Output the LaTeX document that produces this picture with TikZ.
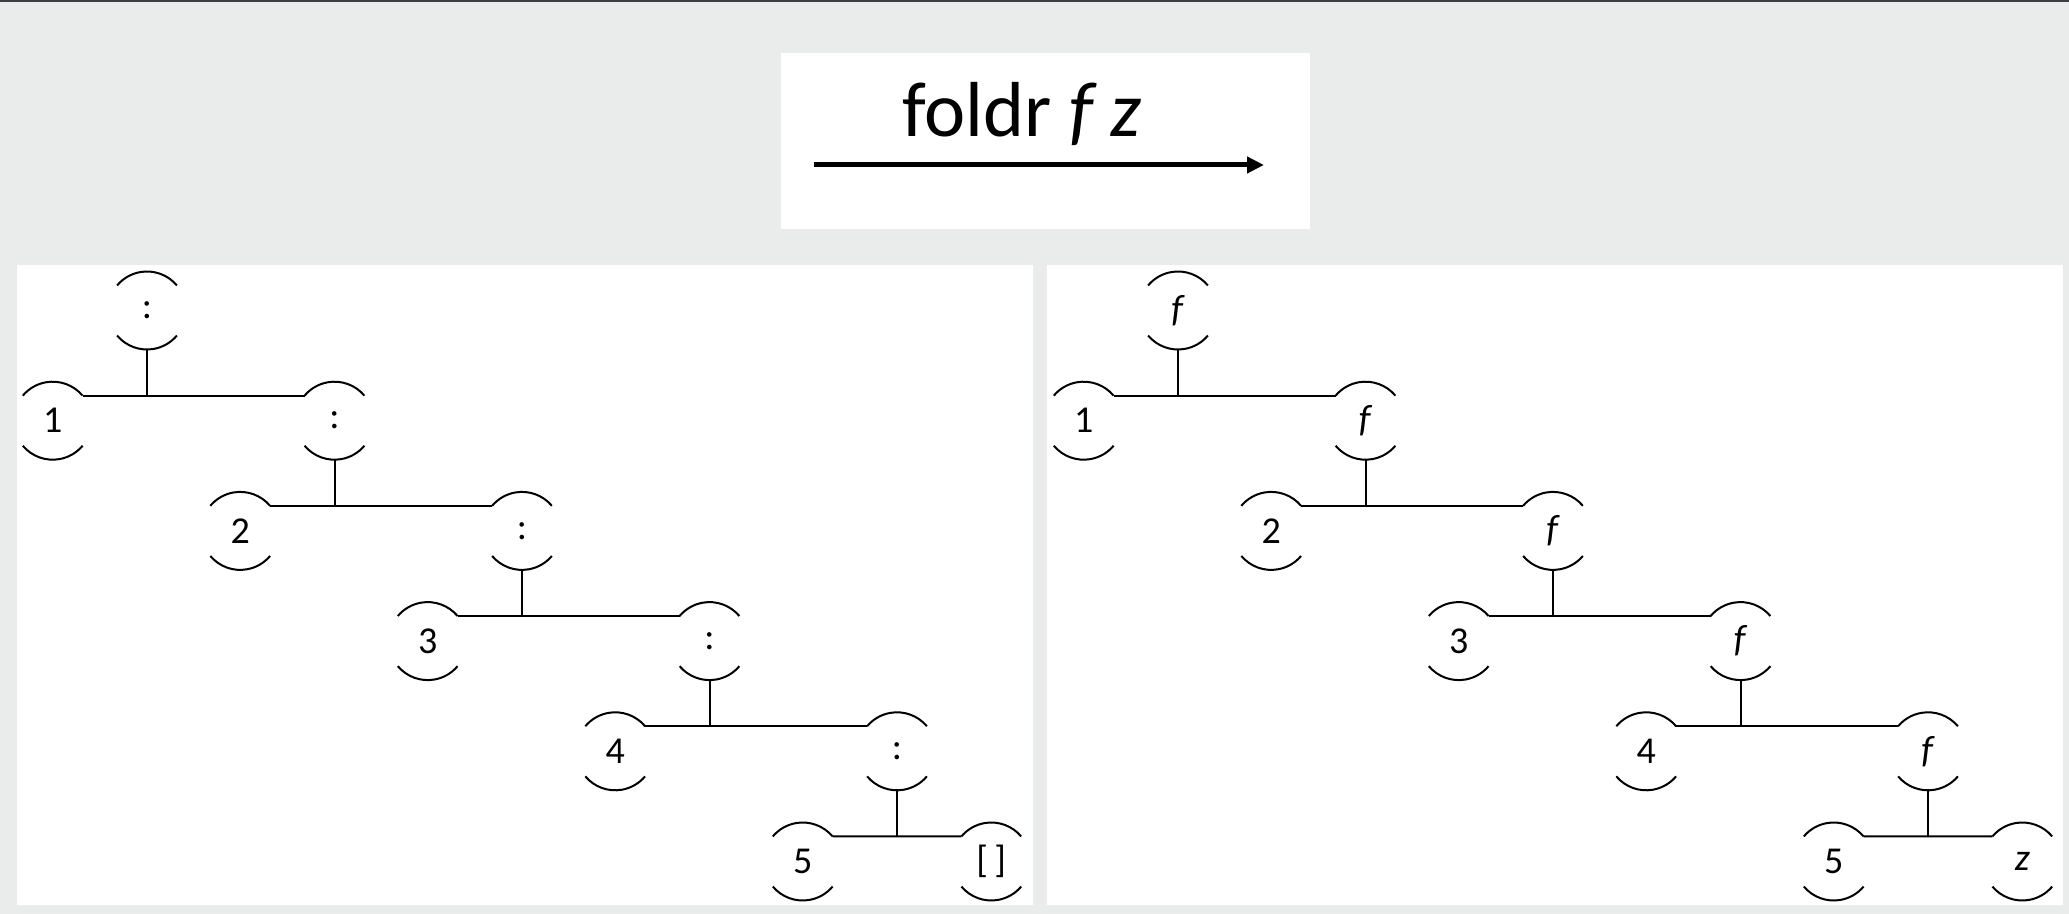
\documentclass[tikz,border=0pt]{standalone}
\usepackage{fontspec}
\setmainfont{Carlito}
\usetikzlibrary{arrows.meta}
\definecolor{bg}{HTML}{EAEBEB}
\definecolor{topbar}{HTML}{3C3F41}
\tikzset{
  tn/.style={circle, minimum size=39pt, inner sep=0pt, outer sep=0pt, font=\fontsize{19}{22}\selectfont},
  link/.style={line width=1pt, black},
  panel/.style={fill=white, draw=none},
  titlefont/.style={font=\fontsize{39}{44}\selectfont},
}
\newcommand{\arcsof}[1]{%
  \draw[link] (#1.40) arc[start angle=40,end angle=140,radius=19.5pt];
  \draw[link] (#1.220) arc[start angle=220,end angle=320,radius=19.5pt];}
\newcommand{\consTree}[4]{%
  \foreach \i in {1,...,5} {
    \node[tn] (#1c\i) at ({#2+147+187.5*(\i-1)},{310.5+110.2*(\i-1)}) {#3};
    \node[tn] (#1n\i) at ({#2+52.7+187.5*(\i-1)},{420.7+110.2*(\i-1)}) {\i};
  }
  \node[tn] (#1e) at ({#2+991.3},861.5) {#4};
  \foreach \i in {1,...,5} {
    \arcsof{#1c\i}
    \arcsof{#1n\i}
    \draw[link] (#1c\i.south) -- (#1c\i.south |- #1n\i.40);
  }
  \arcsof{#1e}
  \foreach \i [evaluate=\i as \j using int(\i+1)] in {1,...,4} {
    \draw[link] (#1n\i.40) -- (#1c\j.140);
  }
  \draw[link] (#1n5.40) -- (#1e.140);
}
\begin{document}
\begin{tikzpicture}[x=0.5pt,y=-0.5pt]
  \useasboundingbox (0,0) rectangle (2069,914);
  \fill[bg] (0,0) rectangle (2069,914);
  \fill[topbar] (0,0) rectangle (2069,2);
  % title box
  \fill[white] (781,53) rectangle (1310,229);
  \node[titlefont, anchor=base, inner sep=0pt] (title) at (1022,137) {foldr \textit{f z}};
  \coordinate (a0) at (814,165);
  \coordinate (a1) at (1264,165);
  \draw[line width=2.5pt, -{Triangle[length=8.5pt,width=8pt]}] (a0) -- (a1);
  % panels
  \fill[panel] (17,265) rectangle (1033,905);
  \fill[panel] (1047,265) rectangle (2063,905);
  % trees
  \consTree{L}{0}{:}{[\,]}
  \consTree{R}{1031}{\textit{f}}{\textit{z}}
\end{tikzpicture}
\end{document}
